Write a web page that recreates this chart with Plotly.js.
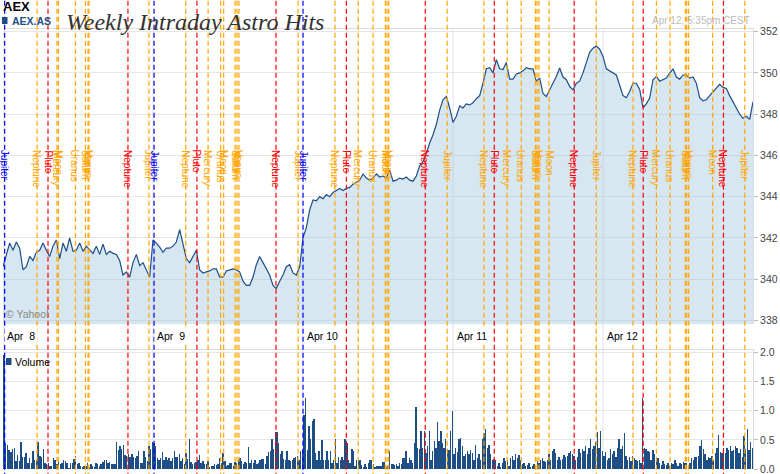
<!DOCTYPE html>
<html><head><meta charset="utf-8">
<script src="https://cdn.plot.ly/plotly-3.0.1.min.js"></script>
<style>html,body{margin:0;padding:0;background:#fff}#chart{width:780px;height:474px}</style>
</head><body><div id="chart"></div>
<script>
// ---------- data ----------
const dayLabels = ['Apr\u00a0\u00a08','Apr\u00a0\u00a09','Apr 10','Apr 11','Apr 12'];

const priceApr8 = [340.6,341.2,341.75,341.4,341.8,341.5,340.45,340.6,341.1,340.9,341.3,341.4,341.75,341.4,341.1,341.6,341.9,341.0,341.75,341.35,342.0,341.35,341.4,341.75,341.35,341.6,341.4,341.25,341.6,341.2,341.7,341.2,341.35,341.25,341.2,340.9,340.2,340.35,340.1,340.8,341.2,340.65,340.8,340.45,340.1];
const priceApr9 = [341.9,341.75,341.55,341.3,341.5,341.5,341.6,341.8,342.4,341.75,341.0,340.8,341.1,341.4,340.45,340.3,340.35,340.4,340.5,340.5,340.1,340.1,340.4,340.45,340.5,340.45,340.35,339.9,339.7,339.7,340.1,340.7,341.1,340.8,340.5,340.2,339.7,339.55,339.9,340.2,340.6,340.7,340.3,340.2,340.6];
const priceApr10 = [342.0,342.5,343.36,343.84,343.8,344.0,343.9,344.1,344.0,344.2,344.3,344.4,344.3,344.4,344.45,344.6,344.7,344.8,345.1,344.9,344.8,344.9,345.1,344.95,345.0,344.9,345.3,344.75,344.8,344.9,344.85,344.95,344.8,344.75,345.0,345.5,345.7,346.1,346.6,347.0,347.5,348.2,348.7,348.86,348.3];
const priceApr11 = [347.6,347.9,348.4,348.3,348.5,348.45,348.55,348.75,348.9,349.5,350.2,350.25,350.0,350.64,350.2,350.16,350.5,349.7,349.7,349.95,350.0,350.1,350.25,350.2,350.2,349.6,349.75,349.0,348.86,349.18,349.5,349.83,350.24,349.8,349.67,349.34,349.18,349.5,349.6,350.0,350.5,351.0,351.2,351.3,351.15];
const priceApr12 = [350.8,350.2,350.1,350.0,349.9,349.4,348.9,348.8,349.1,349.5,349.5,349.2,348.3,348.5,348.78,349.67,349.83,349.6,349.67,349.75,349.99,350.2,349.8,349.7,349.9,349.9,349.75,349.8,349.5,348.8,348.65,348.7,348.9,349.1,349.3,349.45,349.3,349.25,348.9,348.6,348.3,348.0,347.8,347.9,347.75,348.6];

const volApr8 = [1.95,0.45,0.41,0.32,0.29,0.35,0.36,0.14,0.24,0.14,0.47,0.21,0.21,0.27,0.10,0.19,0.11,0.31,0.15,0.16,0.46,0.22,0.20,0.34,0.10,0.09,0.11,0.06,0.05,0.19,0.15,0.09,0.13,0.09,0.11,0.16,0.14,0.11,0.02,0.11,0.11,0.18,0.23,0.09,0.11,0.06,0.04,0.06,0.05,0.11,0.04,0.09,0.06,0.04,0.10,0.08,0.06,0.09,0.12,0.16,0.16,0.11,0.12,0.09,0.08,0.08,0.47,0.33,0.40,0.34,0.42,0.24,0.22,0.26,0.20,0.25,0.21,0.19,0.22,0.31,0.10,0.10,0.31,0.20,0.14,0.39,0.34,0.46];
const volApr9 = [0.45,0.39,0.19,0.16,0.19,0.29,0.16,0.21,0.15,0.19,0.14,0.19,0.31,0.20,0.21,0.25,0.14,0.19,0.09,0.27,0.18,0.51,0.12,0.09,0.10,0.12,0.15,0.24,0.10,0.14,0.08,0.08,0.14,0.04,0.06,0.05,0.09,0.07,0.09,0.19,0.11,0.27,0.14,0.06,0.07,0.11,0.11,0.06,0.12,0.10,0.15,0.19,0.13,0.09,0.12,0.10,0.38,0.11,0.15,0.11,0.15,0.09,0.11,0.15,0.18,0.18,0.09,0.23,0.29,0.31,0.51,0.34,0.63,0.63,0.45,0.25,0.31,0.18,0.16,0.31,0.16,0.14,0.16,0.19,0.21,0.23,0.15,0.31,0.32];
const volApr10 = [0.93,1.21,0.32,0.73,0.52,0.82,0.86,0.27,0.15,0.31,0.16,0.49,0.16,0.15,0.31,0.16,0.31,0.11,0.15,0.52,0.11,0.21,0.16,0.21,0.16,0.51,0.44,0.16,0.11,0.35,0.31,0.06,0.16,0.16,0.16,0.07,0.04,0.08,0.04,0.11,0.16,0.15,0.08,0.04,0.06,0.06,0.06,0.06,0.12,0.12,0.04,0.06,0.31,0.08,0.09,0.07,0.09,0.06,0.11,0.09,0.19,0.19,0.31,0.11,0.19,0.16,0.10,0.45,1.06,0.36,0.34,0.65,0.36,0.65,0.28,0.39,0.65,0.16,0.31,0.48,0.36,0.80,0.48,0.65,0.45,0.36,0.51,0.34,0.32,0.66,0.99];
const volApr11 = [0.25,0.36,0.29,0.51,0.54,0.39,0.22,0.25,0.31,0.25,0.32,0.28,0.16,0.42,0.19,0.25,0.16,0.51,0.62,0.68,0.36,0.42,0.25,0.16,0.18,0.16,0.05,0.11,0.04,0.10,0.19,0.14,0.16,0.05,0.19,0.23,0.16,0.26,0.19,0.24,0.15,0.08,0.10,0.06,0.07,0.11,0.04,0.06,0.09,0.05,0.14,0.11,0.16,0.19,0.14,0.12,0.15,0.25,0.16,0.31,0.34,0.28,0.15,0.21,0.16,0.18,0.24,0.21,0.23,0.27,0.31,0.25,0.23,0.15,0.21,0.34,0.28,0.35,0.31,0.40,0.25,0.36,0.51,0.34,0.39,0.46,0.63,0.36,0.65,0.31];
const volApr12 = [0.22,0.29,0.16,0.19,0.35,0.25,0.31,0.21,0.36,0.51,0.35,0.40,0.62,0.23,0.16,0.21,0.14,0.23,0.19,0.16,0.14,0.16,0.11,1.22,0.36,0.34,0.31,0.29,0.16,0.32,0.25,0.16,0.19,0.11,0.07,0.14,0.08,0.07,0.11,0.06,0.11,0.08,0.16,0.11,0.06,0.11,0.08,0.12,0.11,0.11,0.06,0.10,0.19,0.16,0.21,0.21,0.23,0.39,0.49,0.34,0.25,0.16,0.21,0.19,0.22,0.15,0.28,0.36,0.59,0.29,0.28,0.36,0.28,0.36,0.32,0.39,0.31,0.32,0.40,0.36,0.27,0.34,0.21,0.56,0.34,0.68,0.32,0.46,0.36];

// astro hits: time in trading days since Apr 8 open
const hitTime = [0.011,0.227,0.300,0.360,0.369,0.483,0.549,0.567,0.573,0.833,0.973,
  1.007,1.218,1.293,1.367,1.451,1.471,1.547,1.560,1.573,1.820,1.967,
  2.000,2.213,2.289,2.368,2.467,2.549,2.560,2.571,2.815,2.961,
  3.206,3.275,3.361,3.455,3.549,3.560,3.573,3.640,3.808,3.955,
  4.200,4.268,4.356,4.447,4.549,4.558,4.571,4.731,4.803,4.945];
const hitPlanet = ['Jupiter','Neptune','Pluto','Mercury','Moon','Uranus','Saturn','Mars','Venus','Neptune','Jupiter',
  'Jupiter','Neptune','Pluto','Mercury','Uranus','Moon','Saturn','Mars','Venus','Neptune','Jupiter',
  'Jupiter','Neptune','Pluto','Mercury','Uranus','Moon','Mars','Venus','Neptune','Jupiter',
  'Neptune','Pluto','Mercury','Uranus','Saturn','Mars','Venus','Moon','Neptune','Jupiter',
  'Neptune','Pluto','Mercury','Uranus','Saturn','Mars','Venus','Moon','Neptune','Jupiter'];
const hitKind = ['b','o','r','o','o','o','o','o','o','r','o',
  'b','o','r','o','o','o','o','o','o','r','o',
  'b','o','r','o','o','o','o','o','r','o',
  'o','r','o','o','o','o','o','o','r','o',
  'o','r','o','o','o','o','o','o','r','o'];
const kindColor = {b:'#0000ff', r:'#ff0000', o:'#ffa500'};

// ---------- geometry helpers ----------
const W = 780, H = 474, mL = 3, mR = 27, mT = 29, mB = 5;
const plotH = H - mT - mB;
const py = p => (H - mB - p) / plotH;          // pixel row -> paper y
const pxp = p => (p - mL) / (W - mL - mR);     // pixel col -> paper x
const FONT = 'Liberation Sans, Arial, sans-serif';
const NAVY = '#1d4f86';

// ---------- traces ----------
const priceDays = [priceApr8, priceApr9, priceApr10, priceApr11, priceApr12];
const volDays = [volApr8, volApr9, volApr10, volApr11, volApr12];
const PSTEP = 45;
const tx = [], ty = [];
priceDays.forEach((arr, d) => arr.forEach((v, k) => { tx.push(d + k / PSTEP); ty.push(v); }));
const bx = [], by = [];
volDays.forEach((arr, d) => arr.forEach((v, i) => { bx.push(d + (i + 0.6) / arr.length); by.push(v); }));

const traces = [
  {x: tx, y: ty, type: 'scatter', mode: 'lines', xaxis: 'x', yaxis: 'y',
   line: {color: NAVY, width: 1.2}, fill: 'tozeroy', fillcolor: 'rgba(160,198,225,0.42)', hoverinfo: 'skip'},
  {x: bx, y: by, type: 'bar', xaxis: 'x2', yaxis: 'y2', width: 0.85 / 90,
   marker: {color: NAVY, line: {width: 0}}, hoverinfo: 'skip'}
];

// ---------- shapes ----------
const shapes = [];
for (let d = 0; d < 5; d++) {
  shapes.push({type: 'line', xref: 'x', yref: 'paper', x0: d, x1: d, y0: 0, y1: 1,
    line: {color: '#e2e2e2', width: 1}, layer: 'below'});
}
hitTime.forEach((t, i) => {
  shapes.push({type: 'line', xref: 'x', yref: 'paper', x0: t, x1: t, y0: -0.02, y1: py(-2),
    line: {color: kindColor[hitKind[i]], width: 1.2, dash: '5px,3px'}, layer: 'above'});
});
// legend squares
shapes.push({type: 'rect', xref: 'paper', yref: 'paper', x0: pxp(2), x1: pxp(7.5), y0: py(24), y1: py(17),
  fillcolor: NAVY, line: {width: 0}});
shapes.push({type: 'rect', xref: 'paper', yref: 'paper', x0: pxp(6), x1: pxp(11.5), y0: py(365), y1: py(358),
  fillcolor: NAVY, line: {width: 0}});

// ---------- annotations ----------
const ann = [];
hitTime.forEach((t, i) => {
  ann.push({xref: 'x', yref: 'paper', x: t, y: py(148), xanchor: 'center', yanchor: 'top',
    text: hitPlanet[i], textangle: 90, showarrow: false,
    font: {family: FONT, size: 10, color: kindColor[hitKind[i]]}});
});
dayLabels.forEach((lab, d) => {
  ann.push({xref: 'x', yref: 'paper', x: d, xshift: 1, y: py(335.5), xanchor: 'left', yanchor: 'middle',
    text: lab, showarrow: false, bgcolor: '#ffffff', borderpad: 2,
    font: {family: FONT, size: 10.5, color: '#000'}});
});
ann.push({xref: 'paper', yref: 'paper', x: pxp(1), y: py(7), xanchor: 'left', yanchor: 'middle',
  text: '<b>AEX</b>', showarrow: false, font: {family: FONT, size: 13, color: '#000'}});
ann.push({xref: 'paper', yref: 'paper', x: pxp(10), y: py(20.5), xanchor: 'left', yanchor: 'middle',
  text: '<b>AEX.AS</b>', showarrow: false, font: {family: FONT, size: 10.5, color: NAVY}});
ann.push({xref: 'paper', yref: 'paper', x: pxp(752), y: py(20.5), xanchor: 'right', yanchor: 'middle',
  text: 'Apr 12, 5:35pm CEST', showarrow: false, font: {family: FONT, size: 10, color: '#bbbbbb'}});
ann.push({xref: 'paper', yref: 'paper', x: pxp(4), y: py(314), xanchor: 'left', yanchor: 'middle',
  text: '\u00a9 Yahoo!', showarrow: false, font: {family: FONT, size: 10.5, color: '#888'}});
ann.push({xref: 'paper', yref: 'paper', x: pxp(13), y: py(361.5), xanchor: 'left', yanchor: 'middle',
  text: 'Volume', showarrow: false, font: {family: FONT, size: 10.5, color: '#000'}});

// ---------- layout ----------
const axLine = '#dcdcdc';
const layout = {
  width: W, height: H,
  margin: {l: mL, r: mR, t: mT, b: mB, pad: 0},
  paper_bgcolor: '#fff', plot_bgcolor: '#fff',
  showlegend: false, bargap: 0,
  title: {text: 'Weekly Intraday Astro Hits', x: 66 / W, xanchor: 'left', xref: 'container',
    y: 1 - 22 / H, yanchor: 'middle', yref: 'container',
    font: {family: 'Liberation Serif, serif', size: 24, color: '#333', style: 'italic'}},
  xaxis: {domain: [0, 1], range: [0, 5], anchor: 'y', side: 'top', showline: true, linecolor: axLine,
    showgrid: false, zeroline: false, showticklabels: false, ticks: '', fixedrange: true},
  yaxis: {domain: [py(324.3), 1], range: [337.81, 352.13], side: 'right', tick0: 338, dtick: 2,
    gridcolor: '#e6e6e6', showline: true, linecolor: axLine, zeroline: false,
    ticks: 'outside', ticklen: 4, tickcolor: '#bbb', ticklabeloverflow: 'allow',
    tickfont: {family: FONT, size: 10.5, color: '#444'}, fixedrange: true},
  xaxis2: {domain: [0, 1], range: [0, 5], anchor: 'y2', side: 'top', showline: true, linecolor: axLine,
    showgrid: false, zeroline: false, showticklabels: false, ticks: '', fixedrange: true},
  yaxis2: {domain: [0, py(350)], range: [0, 2.04], side: 'right', tick0: 0, dtick: 0.5, tickformat: '.1f',
    gridcolor: '#e6e6e6', showline: true, linecolor: axLine, zeroline: false,
    ticks: 'outside', ticklen: 4, tickcolor: '#bbb', ticklabeloverflow: 'allow',
    tickfont: {family: FONT, size: 10.5, color: '#444'}, fixedrange: true},
  shapes: shapes,
  annotations: ann
};

Plotly.newPlot('chart', traces, layout, {staticPlot: true, displayModeBar: false});
</script></body></html>
